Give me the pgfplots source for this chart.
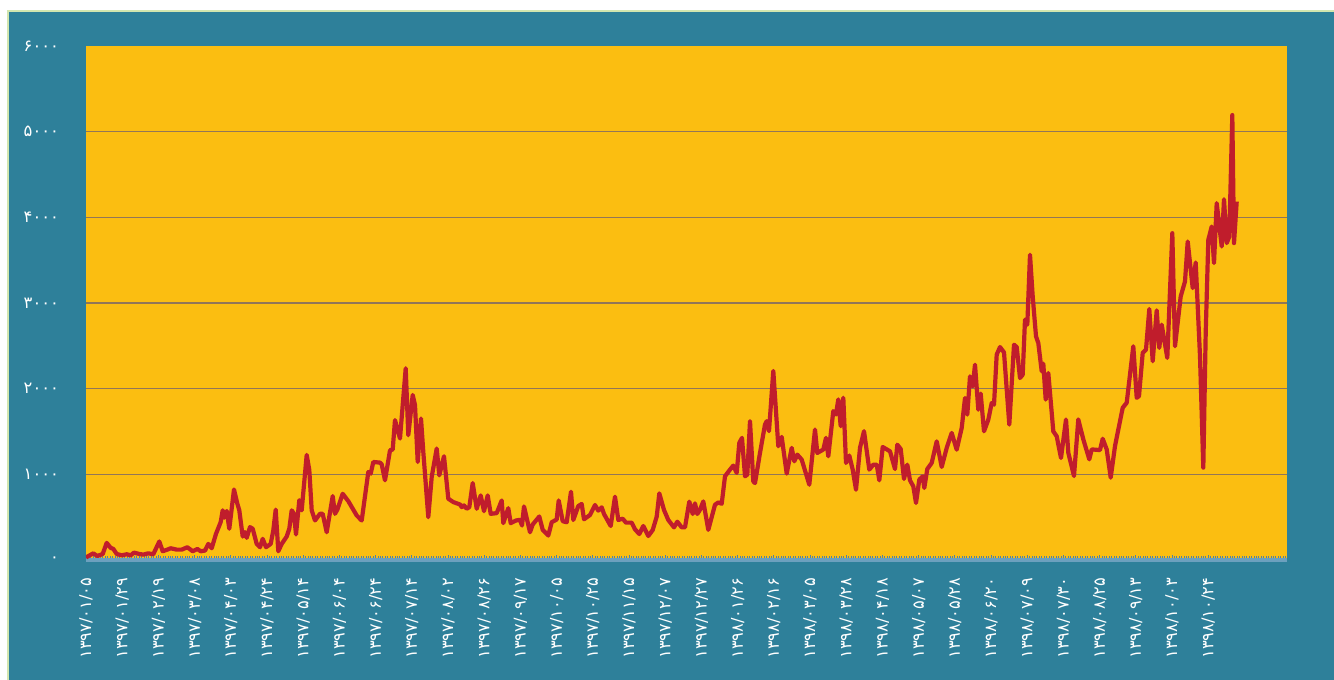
\documentclass[border=0pt]{standalone}
\usepackage{pgfplots}
\pgfplotsset{compat=1.18}
\usepackage{fontspec}
\newfontfamily\fa[Script=Arabic]{DejaVu Sans}
\definecolor{bgteal}{RGB}{46,128,154}
\definecolor{plotorange}{RGB}{251,190,17}
\definecolor{linered}{RGB}{192,29,44}
\definecolor{gridc}{RGB}{145,118,88}
\definecolor{axisblue}{RGB}{108,160,190}
\definecolor{tickblue}{RGB}{80,130,165}
\definecolor{edgegreen}{RGB}{210,230,175}
\begin{document}
\begin{tikzpicture}[x=0.5pt,y=0.5pt]
\useasboundingbox (0,0) rectangle (1334,680);
\fill[white] (0,0) rectangle (1334,680);
\fill[bgteal] (8,0) rectangle (1334,669);
\draw[edgegreen,line width=0.8pt] (8,0) -- (8,669) -- (1334,669);
\begin{axis}[
  at={(43pt,60pt)}, anchor=south west,
  scale only axis, width=600.5pt, height=257pt,
  xmin=86, xmax=1287, ymin=0, ymax=6000,
  axis background/.style={fill=plotorange},
  axis x line*=bottom, axis y line*=left,
  y axis line style={draw=none},
  x axis line style={draw=axisblue,line width=2pt},
  xtick={86,122.2,...,1210},
  minor xtick={86,88.4133,...,1287},
  major tick length=2.5pt, minor tick length=2pt,
  x tick style={color=tickblue,line width=0.4pt},
  tick align=inside,
  xticklabels={۱۳۹۷/۰۱/۰۵,۱۳۹۷/۰۱/۲۹,۱۳۹۷/۰۲/۱۹,۱۳۹۷/۰۳/۰۸,۱۳۹۷/۰۴/۰۳,۱۳۹۷/۰۴/۲۴,۱۳۹۷/۰۵/۱۴,۱۳۹۷/۰۶/۰۴,۱۳۹۷/۰۶/۲۴,۱۳۹۷/۰۷/۱۴,۱۳۹۷/۰۸/۰۲,۱۳۹۷/۰۸/۲۶,۱۳۹۷/۰۹/۱۷,۱۳۹۷/۱۰/۰۵,۱۳۹۷/۱۰/۲۵,۱۳۹۷/۱۱/۱۵,۱۳۹۷/۱۲/۰۷,۱۳۹۷/۱۲/۲۷,۱۳۹۸/۰۱/۲۶,۱۳۹۸/۰۲/۱۶,۱۳۹۸/۰۳/۰۵,۱۳۹۸/۰۳/۲۸,۱۳۹۸/۰۴/۱۸,۱۳۹۸/۰۵/۰۷,۱۳۹۸/۰۵/۲۸,۱۳۹۸/۰۶/۲۰,۱۳۹۸/۰۷/۰۹,۱۳۹۸/۰۷/۳۰,۱۳۹۸/۰۸/۲۵,۱۳۹۸/۰۹/۱۳,۱۳۹۸/۱۰/۰۳,۱۳۹۸/۱۰/۲۴},
  xticklabel style={rotate=90, anchor=east, font=\fa\fontsize{8.1}{10}\selectfont, text=white},
  xticklabel shift=5.5pt,
  ytick={0,1000,2000,3000,4000,5000,6000},
  yticklabels={۰,۱۰۰۰,۲۰۰۰,۳۰۰۰,۴۰۰۰,۵۰۰۰,۶۰۰۰},
  y tick style={draw=none},
  yticklabel style={anchor=east, font=\fa\fontsize{8.2}{9}\selectfont, text=white},
  yticklabel shift=10pt,
  extra y ticks={1000,2000,3000,4000,5000},
  extra y tick labels={},
  extra y tick style={ymajorgrids=true, major tick length=0pt},
  major grid style={color=gridc, line width=0.6pt},
]
\addplot[color=linered, line width=2.1pt, line join=round, mark=none] coordinates {
(86,30)(93.3,78)(97.3,47)(102.7,70)(106.7,200)(110.7,141)(113.3,130)(116.7,70)(121.7,55)(126.7,67)
(130.7,55)(134,86)(139.3,70)(143.3,63)(148.3,78)(153.3,67)(159.3,216)(162.7,102)(167.3,121)(170.7,137)
(176.7,121)(181.7,121)(187.3,149)(192.7,102)(197.3,129)(200.7,102)(205,110)(208.3,188)(211.7,137)(216,306)
(220.7,443)(222.7,580)(224.3,494)(226.7,572)(229.3,365)(234,823)(237.3,659)(239.3,580)(242.7,274)(245,325)
(246.7,259)(250,384)(252.7,365)(256.7,188)(260,149)(262.7,247)(266,149)(270.7,188)(273.3,345)(275.7,588)
(278.3,102)(281.7,188)(286.7,274)(289.3,365)(291.7,580)(294,541)(296,298)(299.3,698)(301.7,580)(306.7,1227)
(309.3,1051)(311.7,580)(315,462)
(320,539)(322.7,539)(326.7,324)(332.7,746)(335,539)(337.3,586)(342.7,773)(348.3,687)(356.7,520)(361.7,461)
(368.3,1027)(370.7,1008)(373.3,1144)(380,1137)(381.7,1117)(385,930)(390,1281)(392.7,1289)(395,1633)(400,1418)
(405.7,2238)(408.3,1457)(412.7,1926)(415,1809)(417.7,1144)(421,1652)(423.3,1262)(428.3,500)(431.7,969)(436.7,1301)
(439.3,988)(444,1211)(448.3,715)(453.3,676)(460,648)(461.7,617)(464,637)(466.7,598)(469.3,617)(472.7,898)
(476.7,598)(480.7,754)(484,570)(487.7,754)(490.7,539)(496.7,547)(501.7,695)(503.3,430)(508.3,605)(510.7,430)
(516,461)(520,469)(522,402)(524,625)(530,324)(532.7,414)(539.3,508)(542.7,352)(548.3,285)(551.7,441)
(556.7,473)(558.7,695)(562.7,453)(566.7,441)
(571,797)(573.3,467)(578.3,630)(581.7,654)(584,475)(590,525)(595,642)(598.3,576)(601.7,615)(604,537)
(610.7,397)(615,739)(618.3,467)(622.7,482)(626,436)(631.7,436)(635,358)(639.3,303)(643.3,397)(648.3,280)
(652.7,350)(656.7,506)(659.3,778)(664,584)(668.3,467)(674,381)(677.3,447)(681.7,381)(685,381)(689.3,681)
(692.7,537)(695,661)(697.3,537)
(700,586)(703.3,684)(708.3,352)(715,645)(718.3,672)(721.7,656)(725,977)(730,1055)(733.3,1102)(736.7,1016)
(739.3,1367)(742,1426)(745,977)(747.3,996)(750,1621)(753.3,918)(755,898)(760,1250)(765,1582)(766.7,1621)
(769,1504)(773.3,2207)(778.3,1328)(781.7,1437)(786.7,1008)(791.7,1309)(794.3,1152)(797.3,1230)(801.7,1172)(809.3,879)
(815,1523)(817.3,1250)(823.3,1289)(826,1426)(828.3,1211)(833.3,1738)(836,1699)(838.3,1875)(840.7,1562)(843.3,1894)
(846,1133)(849.3,1219)(852.7,1055)(856,820)(860,1309)(864,1504)(869.3,1055)(873.3,1113)(876.7,1113)(879.3,930)
(882.7,1319)(890,1269)(895,1062)(897.3,1346)(900.7,1296)(904,946)(907.3,1113)(910,930)(913.3,860)(916,666)
(919.3,938)(922.7,977)(924.3,841)(927.3,1062)(931.7,1133)(936.7,1385)(941.7,1086)(946.7,1308)(951.7,1483)(956.7,1288)
(961.7,1541)(965,1891)(967.3,1697)(970,2144)(972.7,2027)(975,2280)(978.3,1755)(980.7,1942)(984,1502)(988.3,1638)
(991.7,1833)(994,1813)(996.7,2397)(1000,2486)(1004,2424)(1009.3,1580)(1014,2513)(1016.7,2486)(1020,2124)(1022.7,2163)
(1025,2805)(1027.3,2747)(1030,3564)(1032.7,3077)(1036,2611)(1038.3,2533)(1041.7,2202)(1043.3,2292)(1045.7,1872)(1048.3,2183)
(1053.3,1502)(1056.7,1444)
(1061,1191)(1066,1640)(1068.3,1252)(1074,980)(1078.3,1641)(1083.3,1408)(1089.3,1175)(1091.7,1291)(1100,1283)(1102.7,1415)
(1106.7,1291)(1110.7,961)(1115,1330)(1122.7,1777)(1126.7,1835)(1133.3,2495)(1136.7,1893)(1139,1913)(1142.7,2417)(1146,2456)
(1149.3,2930)(1152.7,2320)(1156.7,2914)(1159.3,2476)(1161.7,2747)(1167.3,2359)(1172.3,3815)(1175,2495)(1180.7,3077)(1185,3252)
(1187.7,3718)(1192.7,3174)(1195.7,3473)(1200,2378)(1203.3,1078)(1205.7,2650)(1208.3,3737)(1211.7,3893)(1214,3466)(1216.7,4165)
(1221.7,3660)(1224,4211)(1226.7,3699)(1229.3,3776)(1232.3,5194)(1234,3699)(1236.7,4184)
};
\end{axis}
\end{tikzpicture}
\end{document}
